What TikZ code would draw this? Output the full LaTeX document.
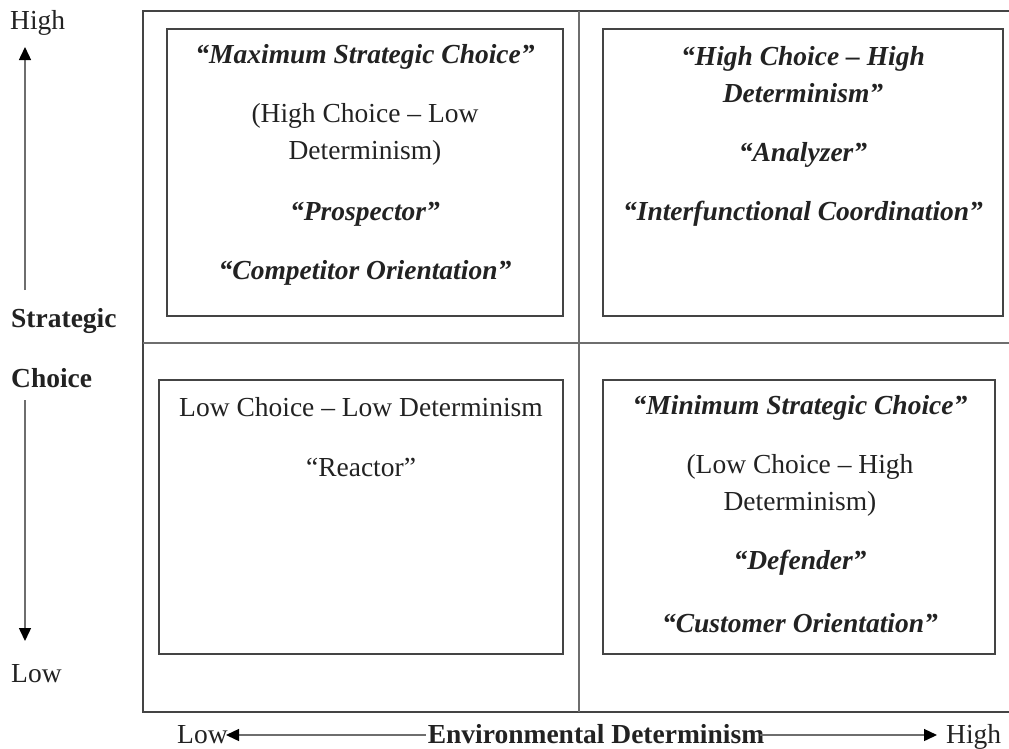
\documentclass[tikz,border=0pt]{standalone}
\usepackage{fontspec}
\setmainfont{Liberation Serif}
\usetikzlibrary{arrows.meta}
\definecolor{ink}{HTML}{222222}
\definecolor{rule}{HTML}{444444}
\definecolor{divider}{HTML}{6E6E6E}
\begin{document}
\begin{tikzpicture}[x=1pt,y=-1pt,
  every node/.style={inner sep=0pt,text=ink},
  txt/.style={font=\fontsize{27.5}{37}\selectfont,align=center},
  emph/.style={txt,font=\fontsize{27.5}{37}\selectfont\bfseries\itshape},
  axislabel/.style={font=\fontsize{27.5}{37}\selectfont,anchor=base west},
  axisbold/.style={axislabel,font=\fontsize{27.5}{37}\selectfont\bfseries},
  quadbox/.style={draw=rule,line width=2pt},
  axis/.style={draw=divider,line width=1.4pt,
    -{Triangle[length=13pt,width=12pt,color=black]}},
]
\useasboundingbox (0,0) rectangle (1009,748);

% outer frame (open to the right) and quadrant dividers
\draw[rule,line width=2pt] (1012,11) -- (143,11) -- (143,712) -- (1012,712);
\coordinate (vtop) at (579,11);
\coordinate (vbot) at (579,712);
\coordinate (hleft) at (143,343);
\coordinate (hright) at (1012,343);
\draw[divider,line width=1.6pt] (vtop) -- (vbot);
\draw[divider,line width=1.6pt] (hleft) -- (hright);

% quadrant boxes
\draw[quadbox] (167,29) rectangle (563,316);
\draw[quadbox] (603,29) rectangle (1003,316);
\draw[quadbox] (159,380) rectangle (563,654);
\draw[quadbox] (603,380) rectangle (995,654);

% top left quadrant
\node[emph] (tl1) at (365,57) {“Maximum Strategic Choice”};
\node[txt]  (tl2) at (365,134) {(High Choice – Low\\Determinism)};
\node[emph] (tl3) at (365,214) {“Prospector”};
\node[emph] (tl4) at (365,273) {“Competitor Orientation”};

% top right quadrant
\node[emph] (tr1) at (803,75) {“High Choice – High\\Determinism”};
\node[emph] (tr2) at (803,155) {“Analyzer”};
\node[emph] (tr3) at (803,214) {“Interfunctional Coordination”};

% bottom left quadrant
\node[txt] (bl1) at (361,407) {Low Choice – Low Determinism};
\node[txt] (bl2) at (361,467) {“Reactor”};

% bottom right quadrant
\node[emph] (br1) at (800,408) {“Minimum Strategic Choice”};
\node[txt]  (br2) at (800,485) {(Low Choice – High\\Determinism)};
\node[emph] (br3) at (800,563) {“Defender”};
\node[emph] (br4) at (800,623) {“Customer Orientation”};

% vertical axis: strategic choice
\node[axislabel] (yhigh) at (10,29) {High};
\node[axisbold] (ystrat) at (11,327) {Strategic};
\node[axisbold] (ychoice) at (11,387) {Choice};
\node[axislabel] (ylow) at (11,682) {Low};
\coordinate (yup) at (25,290);
\coordinate (yuptip) at (25,47);
\coordinate (ydown) at (25,400);
\coordinate (ydowntip) at (25,641);
\draw[axis] (yup) -- (yuptip);
\draw[axis] (ydown) -- (ydowntip);

% horizontal axis: environmental determinism
\node[axislabel] (xlow) at (177,743) {Low};
\node[axisbold,anchor=base] (xlabel) at (596,743) {Environmental Determinism};
\node[axislabel] (xhigh) at (946,743) {High};
\coordinate (xleft) at (426,735);
\coordinate (xlefttip) at (226,735);
\coordinate (xright) at (760,735);
\coordinate (xrighttip) at (937,735);
\draw[axis] (xleft) -- (xlefttip);
\draw[axis] (xright) -- (xrighttip);
\end{tikzpicture}
\end{document}
